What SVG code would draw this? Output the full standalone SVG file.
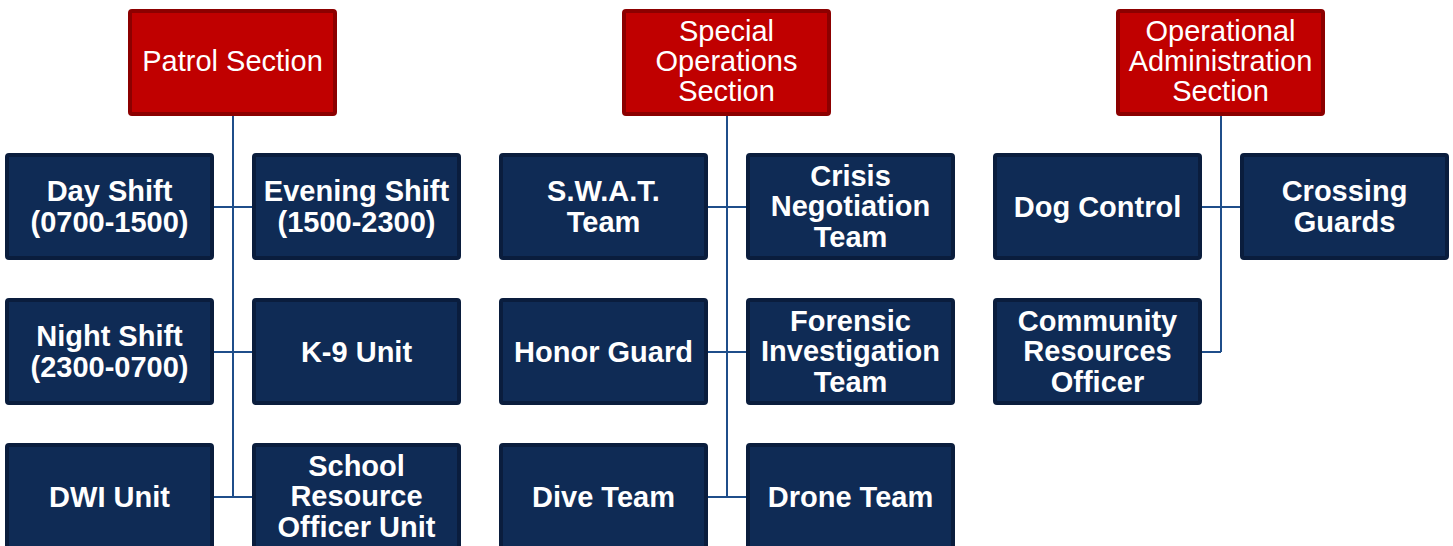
<svg xmlns="http://www.w3.org/2000/svg" width="1453" height="546" viewBox="0 0 1453 546">
<style>
.sec rect{fill:#C00000;stroke:#8C0000;stroke-width:4}
.unit rect{fill:#0F2B55;stroke:#0A1D3D;stroke-width:4}
.sec text{font-family:"Liberation Sans",Arial,sans-serif;font-size:29px;fill:#fff;text-anchor:middle}
.unit text{font-family:"Liberation Sans",Arial,sans-serif;font-size:29px;font-weight:bold;fill:#fff;text-anchor:middle}
#connectors path{fill:none;stroke:#1F4E8A;stroke-width:2}
</style>
<rect width="1453" height="546" fill="#fff"/>
<g id="connectors">
<path d="M233 115V497M214 207H252M214 352H252M214 497H252"/>
<path d="M727 115V497M708 207H746M708 352H746M708 497H746"/>
<path d="M1221 115V352M1202 207H1240M1202 352H1221"/>
</g>
<g id="patrol" class="sec"><rect x="130" y="11" width="205" height="103" rx="2"/><text x="232.5" y="71">Patrol Section</text></g>
<g id="specops" class="sec"><rect x="624" y="11" width="205" height="103" rx="2"/><text x="726.5" y="41">Special</text><text x="726.5" y="71">Operations</text><text x="726.5" y="101">Section</text></g>
<g id="opadmin" class="sec"><rect x="1118" y="11" width="205" height="103" rx="2"/><text x="1220.5" y="41">Operational</text><text x="1220.5" y="71">Administration</text><text x="1220.5" y="101">Section</text></g>

<g id="dayshift" class="unit"><rect x="7" y="155" width="205" height="103" rx="2"/><text x="109.5" y="201">Day Shift</text><text x="109.5" y="232">(0700-1500)</text></g>
<g id="eveningshift" class="unit"><rect x="254" y="155" width="205" height="103" rx="2"/><text x="356.5" y="201">Evening Shift</text><text x="356.5" y="232">(1500-2300)</text></g>
<g id="nightshift" class="unit"><rect x="7" y="300" width="205" height="103" rx="2"/><text x="109.5" y="346">Night Shift</text><text x="109.5" y="377">(2300-0700)</text></g>
<g id="k9" class="unit"><rect x="254" y="300" width="205" height="103" rx="2"/><text x="356.5" y="362">K-9 Unit</text></g>
<g id="dwi" class="unit"><rect x="7" y="445" width="205" height="103" rx="2"/><text x="109.5" y="507">DWI Unit</text></g>
<g id="sro" class="unit"><rect x="254" y="445" width="205" height="103" rx="2"/><text x="356.5" y="476">School</text><text x="356.5" y="506">Resource</text><text x="356.5" y="537">Officer Unit</text></g>

<g id="swat" class="unit"><rect x="501" y="155" width="205" height="103" rx="2"/><text x="603.5" y="201">S.W.A.T.</text><text x="603.5" y="232">Team</text></g>
<g id="crisis" class="unit"><rect x="748" y="155" width="205" height="103" rx="2"/><text x="850.5" y="186">Crisis</text><text x="850.5" y="216">Negotiation</text><text x="850.5" y="247">Team</text></g>
<g id="honor" class="unit"><rect x="501" y="300" width="205" height="103" rx="2"/><text x="603.5" y="362">Honor Guard</text></g>
<g id="forensic" class="unit"><rect x="748" y="300" width="205" height="103" rx="2"/><text x="850.5" y="331">Forensic</text><text x="850.5" y="361">Investigation</text><text x="850.5" y="392">Team</text></g>
<g id="dive" class="unit"><rect x="501" y="445" width="205" height="103" rx="2"/><text x="603.5" y="507">Dive Team</text></g>
<g id="drone" class="unit"><rect x="748" y="445" width="205" height="103" rx="2"/><text x="850.5" y="507">Drone Team</text></g>

<g id="dog" class="unit"><rect x="995" y="155" width="205" height="103" rx="2"/><text x="1097.5" y="217">Dog Control</text></g>
<g id="crossing" class="unit"><rect x="1242" y="155" width="205" height="103" rx="2"/><text x="1344.5" y="201">Crossing</text><text x="1344.5" y="232">Guards</text></g>
<g id="community" class="unit"><rect x="995" y="300" width="205" height="103" rx="2"/><text x="1097.5" y="331">Community</text><text x="1097.5" y="361">Resources</text><text x="1097.5" y="392">Officer</text></g>
</svg>
